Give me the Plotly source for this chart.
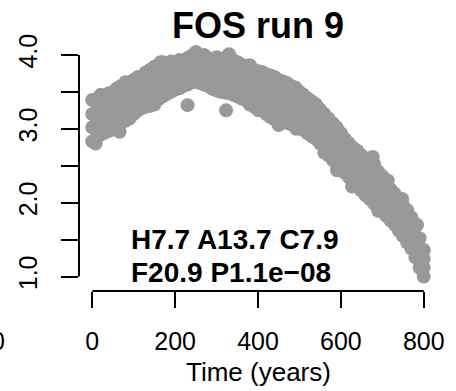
import plotly.graph_objects as go

# Time points (years) and the band of simulated values
years = [0, 10, 20, 30, 40, 50, 60, 70, 80, 90, 100, 110, 120, 130, 140, 150, 160, 170, 180, 190,
         200, 210, 220, 230, 240, 250, 260, 270, 280, 290, 300, 310, 320, 330, 340, 350, 360, 370, 380, 390,
         400, 410, 420, 430, 440, 450, 460, 470, 480, 490, 500, 510, 520, 530, 540, 550, 560, 570, 580, 590,
         600, 610, 620, 630, 640, 650, 660, 670, 680, 690, 700, 710, 720, 730, 740, 750, 760, 770, 780, 790, 800]

fos_top = [3.39, 3.40, 3.46, 3.44, 3.48, 3.50, 3.55, 3.58, 3.63, 3.62, 3.66, 3.70, 3.70, 3.74, 3.80, 3.84, 3.86, 3.90, 3.88, 3.91,
           3.90, 3.93, 3.92, 3.96, 3.99, 4.04, 3.98, 4.00, 3.96, 3.94, 3.97, 3.95, 3.96, 4.01, 3.93, 3.90, 3.87, 3.85, 3.86, 3.80,
           3.78, 3.77, 3.74, 3.72, 3.70, 3.66, 3.64, 3.62, 3.58, 3.56, 3.50, 3.46, 3.41, 3.37, 3.33, 3.26, 3.20, 3.14, 3.08, 3.02,
           2.94, 2.86, 2.80, 2.74, 2.70, 2.64, 2.58, 2.55, 2.52, 2.42, 2.36, 2.27, 2.18, 2.12, 2.04, 1.96, 1.90, 1.80, 1.68, 1.52, 1.36]

fos_upper_mid = [3.20, 3.22, 3.27, 3.28, 3.31, 3.33, 3.38, 3.41, 3.45, 3.46, 3.50, 3.55, 3.56, 3.59, 3.63, 3.66, 3.70, 3.74, 3.74, 3.77,
                 3.78, 3.80, 3.81, 3.84, 3.87, 3.90, 3.86, 3.87, 3.83, 3.80, 3.82, 3.80, 3.80, 3.83, 3.77, 3.75, 3.72, 3.70, 3.68, 3.63,
                 3.61, 3.60, 3.56, 3.53, 3.51, 3.47, 3.46, 3.44, 3.41, 3.39, 3.34, 3.30, 3.25, 3.21, 3.17, 3.11, 3.04, 2.97, 2.91, 2.85,
                 2.78, 2.71, 2.65, 2.59, 2.54, 2.48, 2.42, 2.38, 2.34, 2.26, 2.19, 2.12, 2.04, 1.98, 1.90, 1.82, 1.75, 1.66, 1.54, 1.39, 1.24]

fos_lower_mid = [3.02, 3.05, 3.10, 3.12, 3.14, 3.16, 3.22, 3.25, 3.29, 3.30, 3.35, 3.40, 3.42, 3.45, 3.47, 3.50, 3.55, 3.59, 3.60, 3.63,
                 3.65, 3.68, 3.69, 3.72, 3.75, 3.77, 3.74, 3.73, 3.71, 3.67, 3.67, 3.65, 3.64, 3.66, 3.62, 3.59, 3.56, 3.54, 3.51, 3.47,
                 3.44, 3.42, 3.38, 3.35, 3.32, 3.29, 3.27, 3.26, 3.23, 3.22, 3.18, 3.14, 3.10, 3.06, 3.02, 2.95, 2.84, 2.80, 2.74, 2.68,
                 2.62, 2.55, 2.49, 2.43, 2.38, 2.32, 2.26, 2.22, 2.17, 2.10, 2.03, 1.97, 1.90, 1.84, 1.76, 1.69, 1.61, 1.52, 1.40, 1.25, 1.12]

fos_bottom = [2.83, 2.88, 2.92, 2.95, 2.97, 2.99, 3.05, 3.08, 3.11, 3.14, 3.20, 3.25, 3.28, 3.30, 3.31, 3.33, 3.40, 3.44, 3.47, 3.50,
              3.53, 3.55, 3.58, 3.60, 3.63, 3.64, 3.62, 3.60, 3.58, 3.54, 3.52, 3.50, 3.49, 3.48, 3.46, 3.44, 3.41, 3.39, 3.33, 3.30,
              3.27, 3.25, 3.20, 3.16, 3.13, 3.10, 3.09, 3.08, 3.06, 3.05, 3.02, 2.98, 2.94, 2.90, 2.86, 2.80, 2.68, 2.64, 2.58, 2.52,
              2.46, 2.40, 2.34, 2.28, 2.22, 2.16, 2.10, 2.05, 1.99, 1.94, 1.88, 1.82, 1.76, 1.70, 1.62, 1.55, 1.46, 1.38, 1.26, 1.12, 1.00]

# Stray points and bumps on the edges of the band
outlier_years = [230, 323, 401, 591, 66, 8, 128, 165, 450, 492, 677, 713, 748, 784, 627, 690]
outlier_values = [3.32, 3.25, 3.25, 2.44, 2.96, 2.80, 3.76, 3.90, 3.05, 3.00, 2.62, 2.30, 2.05, 1.70, 2.22, 1.89]

x_ticks = [0, 200, 400, 600, 800]
y_ticks = [1.0, 1.5, 2.0, 2.5, 3.0, 3.5, 4.0]
y_tick_labels = ["1.0", "", "2.0", "", "3.0", "", "4.0"]

title_text = "FOS run 9"
x_title = "Time (years)"
stats_line1 = "H7.7 A13.7 C7.9"
stats_line2 = "F20.9 P1.1e\u221208"

FONT = "Liberation Sans, Arial, Helvetica, sans-serif"
GRAY = "#999999"

xs = years * 4 + outlier_years
ys = fos_top + fos_upper_mid + fos_lower_mid + fos_bottom + outlier_values

fig = go.Figure()
fig.add_trace(go.Scatter(
    x=xs, y=ys, mode="markers",
    marker=dict(size=14, color=GRAY, line=dict(width=0)),
    showlegend=False, hoverinfo="skip",
))

fig.update_layout(
    width=456, height=391,
    margin=dict(l=79, r=12.5, t=42, b=100, pad=0),
    paper_bgcolor="white", plot_bgcolor="white",
    font=dict(family=FONT, color="black", size=25),
    xaxis=dict(
        range=[-32, 832], tickvals=x_ticks, ticktext=[str(v) for v in x_ticks],
        ticks="outside", ticklen=16, tickwidth=2, tickcolor="black",
        showline=False, showgrid=False, zeroline=False,
        tickfont=dict(size=25, family=FONT), ticklabelstandoff=12,
    ),
    yaxis=dict(
        range=[0.805, 4.175], tickvals=y_ticks, ticktext=y_tick_labels,
        ticks="outside", ticklen=17, tickwidth=2, tickcolor="black",
        showline=False, showgrid=False, zeroline=False, tickangle=-90,
        tickfont=dict(size=25, family=FONT), ticklabelstandoff=14,
    ),
)

# R-style axis lines spanning first to last tick
fig.add_shape(type="line", xref="x", yref="paper",
              x0=min(x_ticks), x1=max(x_ticks), y0=0, y1=0,
              line=dict(color="black", width=2))
fig.add_shape(type="line", xref="paper", yref="y",
              x0=0, x1=0, y0=min(y_ticks), y1=max(y_ticks),
              line=dict(color="black", width=2))

# Title
fig.add_annotation(text="<b>%s</b>" % title_text, xref="paper", yref="paper",
                   x=0.5, y=1.065, xanchor="center", yanchor="middle",
                   showarrow=False, font=dict(size=36, family=FONT))
# X axis title
fig.add_annotation(text=x_title, xref="paper", yref="paper",
                   x=0.5, y=-0.325, xanchor="center", yanchor="middle",
                   showarrow=False, font=dict(size=26, family=FONT))
# Statistics text
fig.add_annotation(text="<b>%s</b>" % stats_line1, xref="paper", yref="paper",
                   x=0.140, y=0.205, xanchor="left", yanchor="middle",
                   showarrow=False, font=dict(size=28, family=FONT))
fig.add_annotation(text="<b>%s</b>" % stats_line2, xref="paper", yref="paper",
                   x=0.140, y=0.076, xanchor="left", yanchor="middle",
                   showarrow=False, font=dict(size=28, family=FONT))
# Fragment of neighbouring panel's tick label at the left edge
fig.add_annotation(text="0", xref="paper", yref="paper",
                   x=-0.227, y=-0.2, xanchor="center", yanchor="middle",
                   showarrow=False, font=dict(size=25, family=FONT))

fig.write_html("out.html")
